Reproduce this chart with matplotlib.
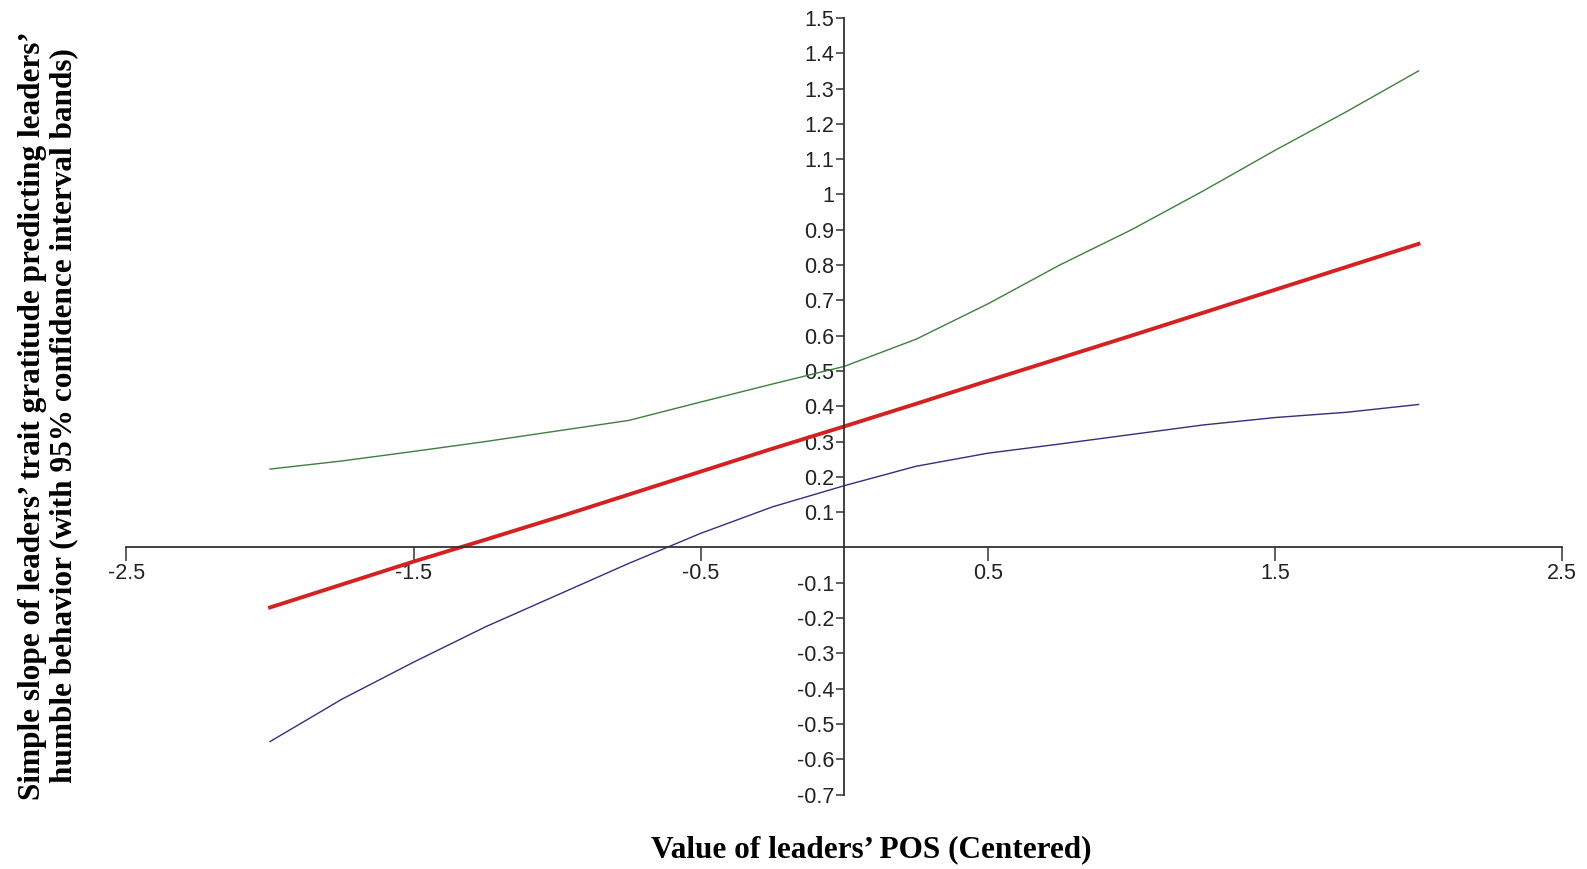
import numpy as np
import matplotlib
matplotlib.use("Agg")
import matplotlib.pyplot as plt
from matplotlib import font_manager

# Значения
x_pos = [-2.0, -1.75, -1.5, -1.25, -1.0, -0.75, -0.5, -0.25, 0.0,
         0.25, 0.5, 0.75, 1.0, 1.25, 1.5, 1.75, 2.0]
slope = [-0.17, -0.105, -0.04, 0.022, 0.085, 0.15, 0.215, 0.28, 0.343,
         0.407, 0.472, 0.536, 0.60, 0.665, 0.73, 0.795, 0.86]
upper = [0.222, 0.245, 0.272, 0.30, 0.33, 0.36, 0.412, 0.463, 0.513,
         0.59, 0.69, 0.80, 0.90, 1.01, 1.125, 1.235, 1.35]
lower = [-0.55, -0.43, -0.325, -0.225, -0.135, -0.045, 0.04, 0.115, 0.175,
         0.23, 0.267, 0.293, 0.32, 0.347, 0.368, 0.383, 0.405]

x_ticks = [-2.5, -1.5, -0.5, 0.5, 1.5, 2.5]
y_ticks = [round(v, 1) for v in np.arange(-0.7, 1.51, 0.1) if abs(v) > 1e-9]

names = {f.name for f in font_manager.fontManager.ttflist}
tick_font = "Liberation Sans Narrow" if "Liberation Sans Narrow" in names else "Liberation Sans"
serif = "Liberation Serif"

fig = plt.figure(figsize=(15.87, 8.69), dpi=100)
ax = fig.add_axes([0.0797, 0.0857, 0.9046, 0.8936])

ax.plot(x_pos, upper, color="#3f7f3f", lw=1.0)
ax.plot(x_pos, lower, color="#30307f", lw=1.0)
ax.plot(x_pos, slope, color="#d42222", lw=2.8)

ax.set_xlim(-2.5, 2.5)
ax.set_ylim(-0.7, 1.5)

# оси пересекаются в нуле
ax.spines["left"].set_position(("data", 0))
ax.spines["bottom"].set_position(("data", 0))
ax.spines["top"].set_visible(False)
ax.spines["right"].set_visible(False)
for s in ("left", "bottom"):
    ax.spines[s].set_color("#333333")
    ax.spines[s].set_linewidth(1.3)

ax.set_xticks(x_ticks)
ax.set_xticklabels([f"{v:g}" for v in x_ticks])
ax.set_yticks(y_ticks)
ax.set_yticklabels([f"{v:g}" for v in y_ticks])
ax.tick_params(axis="x", direction="out", length=10, width=1.1, pad=1,
               labelsize=15.5, colors="#333333", labelcolor="#222222")
ax.tick_params(axis="y", direction="out", length=6, width=1.1, pad=1,
               labelsize=15.5, colors="#333333", labelcolor="#222222")
for lab in ax.get_xticklabels() + ax.get_yticklabels():
    lab.set_family(tick_font)

fig.text(0.549, 0.022, "Value of leaders\u2019 POS (Centered)", ha="center", va="center",
         fontsize=22.5, fontweight="bold", family=serif)
fig.text(0.0303, 0.522,
         "Simple slope of leaders\u2019 trait gratitude predicting leaders\u2019\n"
         "humble behavior (with 95% confidence interval bands)",
         rotation=90, ha="center", va="center", multialignment="center",
         fontsize=22.5, fontweight="bold", family=serif, linespacing=1.1)

fig.savefig("out.png", dpi=100)
